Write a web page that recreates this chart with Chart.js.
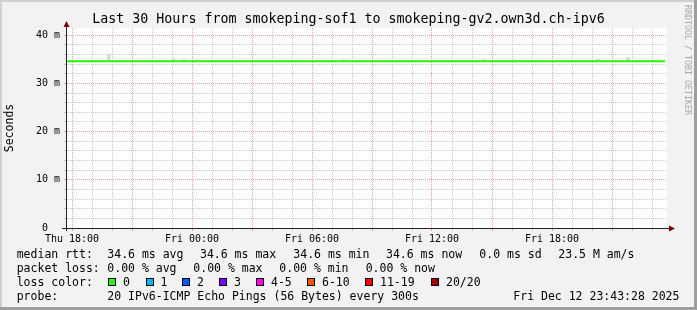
<!DOCTYPE html>
<html><head><meta charset="utf-8">
<script src="https://cdn.jsdelivr.net/npm/chart.js@4/dist/chart.umd.min.js"></script>
<style>
html,body{margin:0;padding:0;background:#f2f2f2;}
#wrap{position:relative;width:697px;height:310px;overflow:hidden;background:#f2f2f2;font-family:'DejaVu Sans Mono',monospace;color:#000;}
#c{position:absolute;left:0;top:0;}
.t{position:absolute;white-space:pre;font-size:11.5px;line-height:14px;}
#title{position:absolute;left:0;top:11px;width:697px;text-align:center;white-space:pre;font-size:13.3px;line-height:16px;}
#wm{position:absolute;left:683px;top:5px;writing-mode:vertical-rl;white-space:pre;font-size:8.3px;line-height:10px;color:#a8a8a8;}
.sw{position:absolute;width:6px;height:6px;border:1px solid #000;}
.bd{position:absolute;}
</style></head>
<body>
<div id="wrap">
<canvas id="c" width="697" height="310"></canvas>
<div id="title"></div>
<div id="wm"></div>
<div class="bd" style="left:0;top:0;width:697px;height:2px;background:#cfcfcf"></div>
<div class="bd" style="left:0;top:0;width:2px;height:310px;background:#cfcfcf"></div>
<div class="bd" style="left:694px;top:0;width:3px;height:310px;background:#9e9e9e"></div>
<div class="bd" style="left:0;top:307px;width:697px;height:3px;background:#9e9e9e"></div>
</div>
<script>
// ---------- data ----------
const titleText = 'Last 30 Hours from smokeping-sof1 to smokeping-gv2.own3d.ch-ipv6';
const watermarkText = 'RRDTOOL / TOBI OETIKER';
const yAxisTitle = 'Seconds';

const xTickHours = [0, 6, 12, 18, 24];
const xTickLabels = ['Thu 18:00', 'Fri 00:00', 'Fri 06:00', 'Fri 12:00', 'Fri 18:00'];
const yTickValues = [0, 10, 20, 30, 40];
const yTickLabels = ['0  ', '10 m', '20 m', '30 m', '40 m'];

// median RTT (ms), hours relative to Thu 18:00
const medianHours = [-0.25, 0, 1, 2, 3, 4, 5, 6, 7, 8, 9, 10, 11, 12, 13, 14, 15, 16, 17, 18, 19, 20, 21, 22, 23, 24, 25, 26, 27, 28, 29, 29.65];
const medianMs    = [34.6, 34.6, 34.6, 34.6, 34.6, 34.6, 34.6, 34.6, 34.6, 34.6, 34.6, 34.6, 34.6, 34.6, 34.6, 34.6, 34.6, 34.6, 34.6, 34.6, 34.6, 34.6, 34.6, 34.6, 34.6, 34.6, 34.6, 34.6, 34.6, 34.6, 34.6, 34.6];

// smoke (spread of individual pings), ms
const smokeHours = [1.84, 5.07, 5.6, 6.27, 13.57, 20.6, 22.1, 26.3, 27.2, 27.79, 29.2];
const smokeLowMs = [34.6, 34.6, 34.6, 34.6, 34.6, 34.6, 34.6, 34.6, 34.6, 34.6, 34.6];
const smokeHighMs = [36.0, 35.15, 34.9, 34.9, 34.9, 35.0, 34.9, 35.0, 34.8, 35.4, 34.8];

const rowLabels = ['median rtt:', 'packet loss:', 'loss color:', 'probe:'];
const rttStats = ['34.6 ms avg', '34.6 ms max', '34.6 ms min', '34.6 ms now', '0.0 ms sd', '23.5 M am/s'];
const lossStats = ['0.00 % avg', '0.00 % max', '0.00 % min', '0.00 % now'];
const lossColorLabels = ['0', '1', '2', '3', '4-5', '6-10', '11-19', '20/20'];
const lossColors = ['#26ff00', '#00b8ff', '#0059ff', '#7e00ff', '#ff00ff', '#ff5500', '#ff0000', '#a00000'];
const probeText = '20 IPv6-ICMP Echo Pings (56 Bytes) every 300s';
const dateText = 'Fri Dec 12 23:43:28 2025';

// ---------- layout ----------
const rowTop = [247, 261, 275, 289];
const rttX = [107.3, 200, 293.3, 386, 479.3, 558.3];
const lossX = [107.3, 193.3, 279.3, 365.7];
const swatchX = [108, 145.5, 182, 219, 256, 307, 365, 431];
const wrap = document.getElementById('wrap');
function addText(txt, x, y) {
  const d = document.createElement('div');
  d.className = 't'; d.textContent = txt;
  d.style.left = x + 'px'; d.style.top = y + 'px';
  wrap.appendChild(d);
}
document.getElementById('title').textContent = titleText;
document.getElementById('wm').textContent = watermarkText;
rowLabels.forEach((l, i) => addText(l, 16.7, rowTop[i]));
rttStats.forEach((s, i) => addText(s, rttX[i], rowTop[0]));
lossStats.forEach((s, i) => addText(s, lossX[i], rowTop[1]));
lossColorLabels.forEach((s, i) => {
  const b = document.createElement('div');
  b.className = 'sw'; b.style.left = swatchX[i] + 'px'; b.style.top = '278px';
  b.style.background = lossColors[i];
  wrap.appendChild(b);
  addText(s, swatchX[i] + 15, rowTop[2]);
});
addText(probeText, 107.3, rowTop[3]);
addText(dateText, 513.3, rowTop[3]);

// ---------- chart ----------
const MAJOR = 'rgba(222,80,80,0.55)';
const MINOR = 'rgba(140,140,140,0.45)';
Chart.defaults.font.family = "'DejaVu Sans Mono', monospace";
Chart.defaults.color = '#000';

const frame = {
  id: 'frame',
  beforeDraw(chart) {
    const {ctx, chartArea: a} = chart;
    ctx.save(); ctx.fillStyle = '#fff';
    ctx.fillRect(a.left, a.top, a.right - a.left, a.bottom - a.top);
    ctx.restore();
  },
  afterDraw(chart) {
    const {ctx, chartArea: a} = chart;
    ctx.save();
    ctx.strokeStyle = '#222'; ctx.lineWidth = 1;
    ctx.beginPath();
    ctx.moveTo(a.left - 0.5, a.top - 6); ctx.lineTo(a.left - 0.5, a.bottom + 3);
    ctx.moveTo(a.left - 5, a.bottom + 0.5); ctx.lineTo(a.right + 3, a.bottom + 0.5);
    ctx.stroke();
    ctx.fillStyle = '#800000';
    ctx.beginPath();
    ctx.moveTo(a.left - 3.5, a.top - 1); ctx.lineTo(a.left + 2.5, a.top - 1); ctx.lineTo(a.left - 0.5, a.top - 7);
    ctx.closePath(); ctx.fill();
    ctx.beginPath();
    ctx.moveTo(a.right + 2, a.bottom - 2.5); ctx.lineTo(a.right + 2, a.bottom + 3.5); ctx.lineTo(a.right + 8, a.bottom + 0.5);
    ctx.closePath(); ctx.fill();
    ctx.restore();
  }
};

new Chart(document.getElementById('c'), {
  type: 'line',
  data: {
    datasets: [
      {
        type: 'line', order: 0,
        data: medianHours.map((h, i) => ({x: h, y: medianMs[i]})),
        borderColor: '#26ff00', borderWidth: 2, pointRadius: 0, tension: 0
      },
      {
        type: 'bar', order: 1,
        data: smokeHours.map((h, i) => ({x: h, y: [smokeLowMs[i], smokeHighMs[i]]})),
        backgroundColor: '#d8d8d8', borderWidth: 0, barThickness: 3, grouped: false
      }
    ]
  },
  options: {
    responsive: false, animation: false, devicePixelRatio: 1,
    layout: {padding: {left: 0, top: 28, right: 30, bottom: 0}},
    plugins: {legend: {display: false}, tooltip: {enabled: false}, title: {display: false}},
    scales: {
      x: {
        type: 'linear', min: -0.25, max: 29.75, offset: false,
        afterBuildTicks: s => { const t = []; for (let h = 0; h <= 29; h++) t.push({value: h}); s.ticks = t; },
        afterFit: s => { s.height = 82; },
        grid: {
          color: c => (c.tick && c.tick.value % 3 === 0) ? MAJOR : MINOR,
          lineWidth: 1, tickLength: 3, offset: false
        },
        border: {display: false, dash: [1, 1]},
        ticks: {
          autoSkip: false, maxRotation: 0, minRotation: 0, padding: 2,
          font: {size: 10},
          callback: v => { const i = xTickHours.indexOf(v); return i >= 0 ? xTickLabels[i] : ''; }
        }
      },
      y: {
        type: 'linear', min: 0, max: 41.5,
        afterBuildTicks: s => { const t = []; for (let v = 0; v <= 40; v += 2) t.push({value: v}); s.ticks = t; },
        afterFit: s => { s.width = 67; },
        grid: {
          color: c => (c.tick && c.tick.value % 10 === 0) ? MAJOR : MINOR,
          lineWidth: 1, tickLength: 3
        },
        border: {display: false, dash: [1, 1]},
        ticks: {
          autoSkip: false, padding: 4, font: {size: 10},
          callback: v => { const i = yTickValues.indexOf(v); return i >= 0 ? yTickLabels[i] : ''; }
        },
        title: {display: true, text: yAxisTitle, font: {size: 11.5}, padding: {top: 3, bottom: 0}}
      }
    }
  },
  plugins: [frame]
});
</script>
</body></html>
